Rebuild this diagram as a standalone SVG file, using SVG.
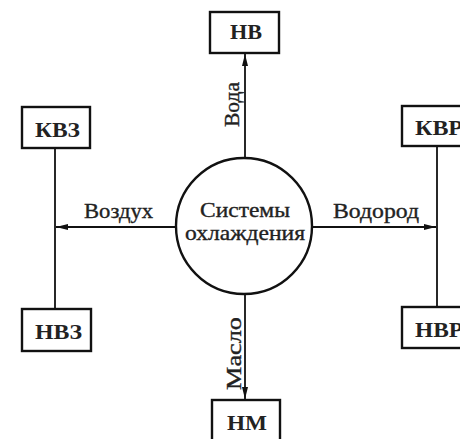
<svg xmlns="http://www.w3.org/2000/svg" width="460" height="439" viewBox="0 0 460 439">
<defs>
<marker id="ah" viewBox="0 0 12 8" refX="12" refY="4" markerWidth="12" markerHeight="8" markerUnits="userSpaceOnUse" orient="auto">
<path d="M0,1 L12,4 L0,7 Z" fill="#111"/>
</marker>
<style>
.box{fill:#fff;stroke:#111;stroke-width:2.4}
.bt{font-family:"Liberation Serif",serif;font-size:21px;font-weight:bold;fill:#222;text-anchor:middle}
.lbl{font-family:"Liberation Serif",serif;font-size:21px;fill:#222;stroke:#222;stroke-width:0.35;text-anchor:middle}
.ln{stroke:#111;stroke-width:1.8;fill:none}
</style>
</defs>
<rect width="460" height="439" fill="#fff"/>
<g id="connectors">
<line class="ln" x1="245" y1="158" x2="245" y2="54" marker-end="url(#ah)"/>
<line class="ln" x1="245" y1="294" x2="245" y2="399" marker-end="url(#ah)"/>
<line class="ln" x1="176" y1="227" x2="56" y2="227" marker-end="url(#ah)"/>
<line class="ln" x1="312" y1="227" x2="436" y2="227" marker-end="url(#ah)"/>
<line class="ln" x1="55" y1="148" x2="55" y2="309"/>
<line class="ln" x1="437" y1="146" x2="437" y2="307"/>
<text class="lbl" transform="translate(239,104.5) rotate(-90)" textLength="45" lengthAdjust="spacingAndGlyphs">Вода</text>
<text class="lbl" transform="translate(241,353.5) rotate(-90)" textLength="73" lengthAdjust="spacingAndGlyphs">Масло</text>
<text class="lbl" x="118.5" y="218" textLength="69" lengthAdjust="spacingAndGlyphs">Воздух</text>
<text class="lbl" x="376" y="218" textLength="86" lengthAdjust="spacingAndGlyphs">Водород</text>
</g>
<g id="center">
<circle cx="244" cy="226" r="68" fill="#fff" stroke="#111" stroke-width="2.4"/>
<text class="lbl" x="245" y="217" textLength="90" lengthAdjust="spacingAndGlyphs">Системы</text>
<text class="lbl" x="245" y="240" textLength="120" lengthAdjust="spacingAndGlyphs">охлаждения</text>
</g>
<g id="NV">
<rect class="box" x="210" y="12" width="69" height="41"/>
<text class="bt" x="246" y="39" textLength="32" lengthAdjust="spacingAndGlyphs">НВ</text>
</g>
<g id="KVZ">
<rect class="box" x="22" y="107" width="68" height="41"/>
<text class="bt" x="57.5" y="137" textLength="45" lengthAdjust="spacingAndGlyphs">КВЗ</text>
</g>
<g id="NVZ">
<rect class="box" x="22" y="309" width="69" height="42"/>
<text class="bt" x="58.5" y="339" textLength="47" lengthAdjust="spacingAndGlyphs">НВЗ</text>
</g>
<g id="KVR">
<rect class="box" x="402" y="106" width="76" height="40"/>
<text class="bt" x="439" y="135" textLength="48" lengthAdjust="spacingAndGlyphs">КВР</text>
</g>
<g id="NVR">
<rect class="box" x="402" y="307" width="76" height="41"/>
<text class="bt" x="439" y="337" textLength="48" lengthAdjust="spacingAndGlyphs">НВР</text>
</g>
<g id="NM">
<rect class="box" x="212" y="400" width="68" height="45"/>
<text class="bt" x="247" y="430" textLength="40" lengthAdjust="spacingAndGlyphs">НМ</text>
</g>
</svg>
